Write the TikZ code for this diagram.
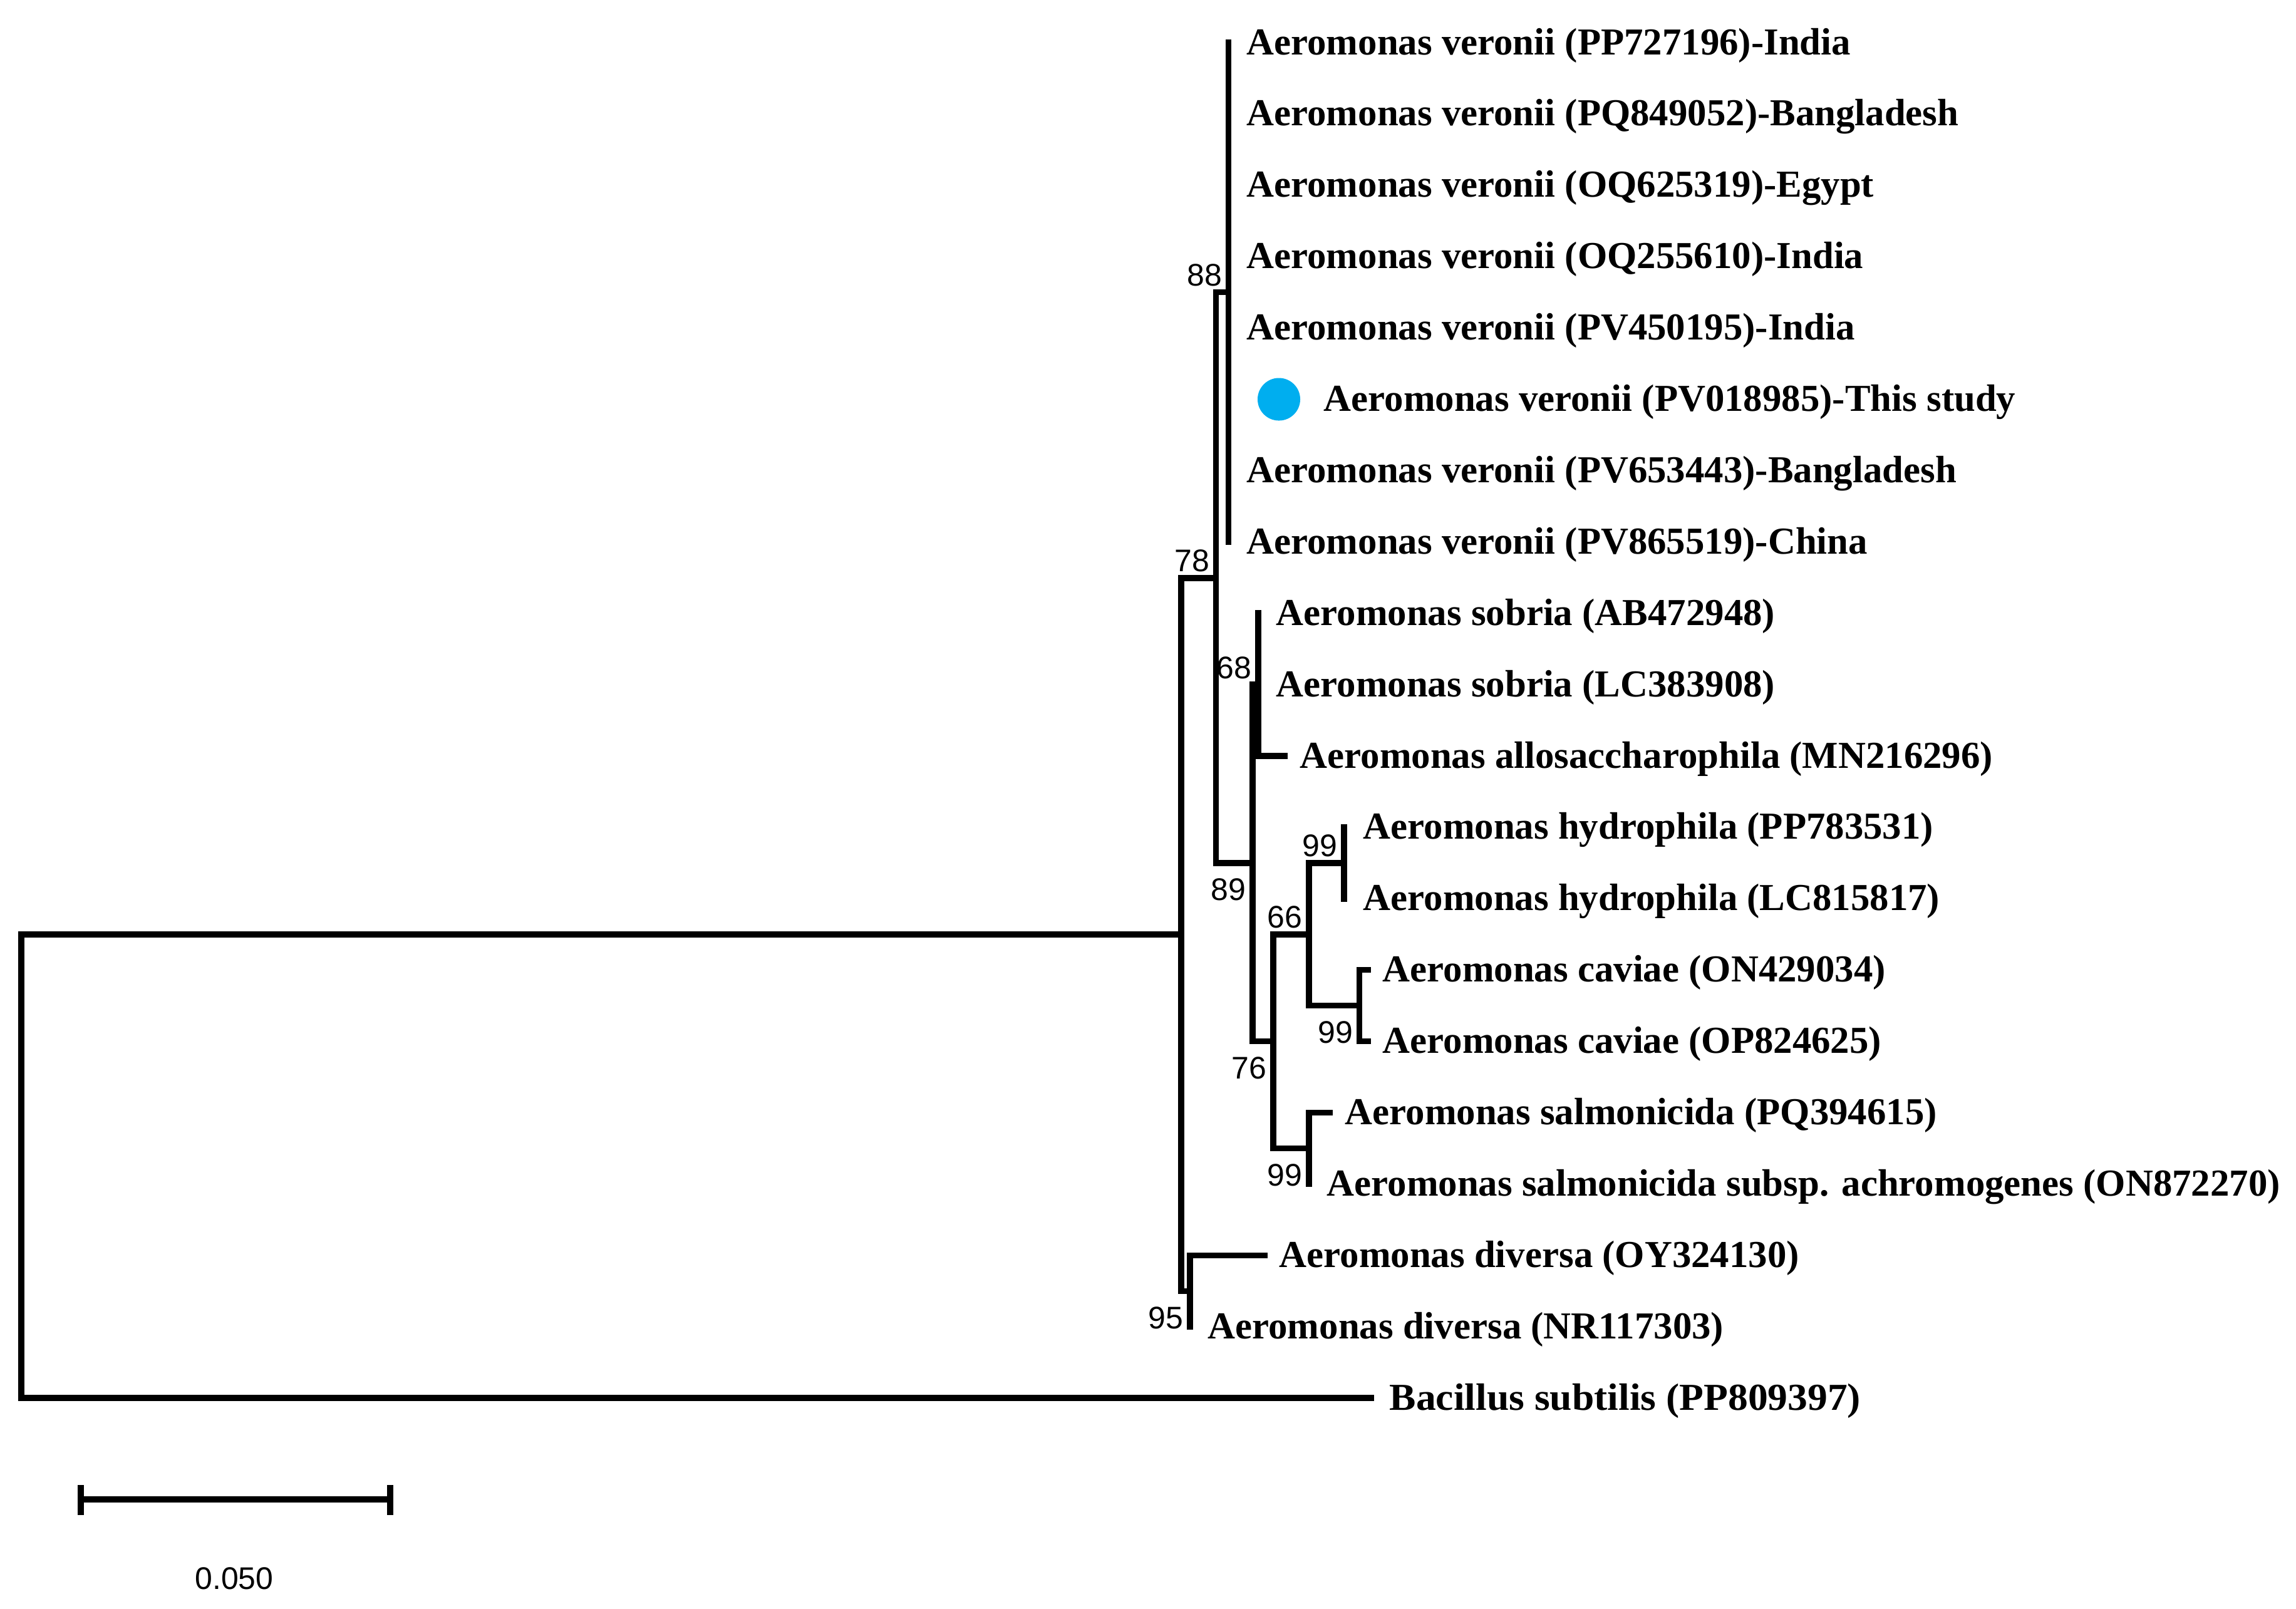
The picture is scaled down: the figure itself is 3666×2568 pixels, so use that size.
\documentclass[tikz,border=0pt]{standalone}
\usepackage{fontspec}
\setmainfont{Liberation Serif}
\newfontfamily\bsfont{Liberation Sans}
\definecolor{studyblue}{HTML}{00AEEF}
\begin{document}
\begin{tikzpicture}[x=0.01cm,y=-0.01cm,
  branch/.style={line width=0.095cm, line cap=rect, line join=miter},
  taxon/.style={anchor=base west, inner sep=0pt, font=\fontsize{17.3}{20}\selectfont\bfseries},
  bsabove/.style={anchor=base east, inner sep=0pt, font=\bsfont\fontsize{14.2}{16}\selectfont},
  bsbelow/.style={anchor=base east, inner sep=0pt, font=\bsfont\fontsize{14.2}{16}\selectfont},
  scalelab/.style={anchor=base, inner sep=0pt, font=\bsfont\fontsize{14.2}{16}\selectfont}]
\useasboundingbox[fill=white] (0,0) rectangle (3666,2568);

% internal nodes
\coordinate (root) at (34,1862);
\coordinate (ing) at (1886,1492);
\coordinate (n78) at (1941.5,922.75);
\coordinate (n88) at (1961.6,466.65);
\coordinate (n89) at (2000,1377.85);
\coordinate (n68) at (2009,1093.1);
\coordinate (n76) at (2033,1662.6);
\coordinate (n66) at (2090,1491.8);
\coordinate (n99h) at (2146,1377.85);
\coordinate (n99c) at (2170.5,1605.65);
\coordinate (n99s) at (2090,1833.45);
\coordinate (n95) at (1900,2061.25);

% tips
\coordinate (t0) at (1961.6,68);
\coordinate (t7) at (1961.6,865.3);
\coordinate (t8) at (2009,979.2);
\coordinate (t10) at (2051,1207);
\coordinate (t11) at (2146,1320.9);
\coordinate (t12) at (2146,1434.8);
\coordinate (t13) at (2184,1548.7);
\coordinate (t14) at (2184,1662.6);
\coordinate (t15) at (2123,1776.5);
\coordinate (t16) at (2090,1890.4);
\coordinate (t17) at (2019,2004.3);
\coordinate (t18) at (1900,2118.2);
\coordinate (t19) at (2189,2232.1);

% branches
\draw[branch] (ing) -| (root) |- (t19);
\draw[branch] (n78) -| (ing) |- (n95);
\draw[branch] (n88) -| (n78) |- (n89);
\draw[branch] (t0) -- (t7);
\draw[branch] (n68) -| (n89) |- (n76);
\draw[branch] (t8) |- (t10);
\draw[branch] (n66) -| (n76) |- (n99s);
\draw[branch] (n99h) -| (n66) |- (n99c);
\draw[branch] (t11) -- (t12);
\draw[branch] (t13) -| (n99c) |- (t14);
\draw[branch] (t15) -| (t16);
\draw[branch] (t17) -| (t18);

% taxon labels
\node[taxon] (L0) at (1990,87) {Aeromonas veronii (PP727196)-India};
\node[taxon] (L1) at (1990,200.9) {Aeromonas veronii (PQ849052)-Bangladesh};
\node[taxon] (L2) at (1990,314.8) {Aeromonas veronii (OQ625319)-Egypt};
\node[taxon] (L3) at (1990,428.7) {Aeromonas veronii (OQ255610)-India};
\node[taxon] (L4) at (1990,542.6) {Aeromonas veronii (PV450195)-India};
\node[circle, fill=studyblue, minimum size=0.68cm, inner sep=0pt] (dot) at (2042,637.5) {};
\node[taxon] (L5) at (2113,656.5) {Aeromonas veronii (PV018985)-This study};
\node[taxon] (L6) at (1990,770.4) {Aeromonas veronii (PV653443)-Bangladesh};
\node[taxon] (L7) at (1990,884.3) {Aeromonas veronii (PV865519)-China};
\node[taxon] (L8) at (2037,998.2) {Aeromonas sobria (AB472948)};
\node[taxon] (L9) at (2037,1112.1) {Aeromonas sobria (LC383908)};
\node[taxon] (L10) at (2075,1226) {Aeromonas allosaccharophila (MN216296)};
\node[taxon] (L11) at (2176,1339.9) {Aeromonas hydrophila (PP783531)};
\node[taxon] (L12) at (2176,1453.8) {Aeromonas hydrophila (LC815817)};
\node[taxon] (L13) at (2207,1567.7) {Aeromonas caviae (ON429034)};
\node[taxon] (L14) at (2207,1681.6) {Aeromonas caviae (OP824625)};
\node[taxon] (L15) at (2147,1795.5) {Aeromonas salmonicida (PQ394615)};
\node[taxon] (L16) at (2118,1909.4) {Aeromonas salmonicida subsp. achromogenes (ON872270)};
\node[taxon] (L17) at (2042,2023.3) {Aeromonas diversa (OY324130)};
\node[taxon] (L18) at (1928,2137.2) {Aeromonas diversa (NR117303)};
\node[taxon] (L19) at (2218,2251.1) {\scalebox{1.045}[1]{Bacillus subtilis (PP809397)}};

% bootstrap values
\node[bsabove] (b88) at ([shift={(-10,-10)}]n88) {88};
\node[bsabove] (b78) at ([shift={(-10,-10)}]n78) {78};
\node[bsabove] (b68) at ([shift={(-10,-10)}]n68) {68};
\node[bsbelow] (b89) at ([shift={(-10,60)}]n89) {89};
\node[bsabove] (b99h) at ([shift={(-10,-10)}]n99h) {99};
\node[bsabove] (b66) at ([shift={(-10,-10)}]n66) {66};
\node[bsbelow] (b99c) at ([shift={(-10,60)}]n99c) {99};
\node[bsbelow] (b76) at ([shift={(-10,60)}]n76) {76};
\node[bsbelow] (b99s) at ([shift={(-10,60)}]n99s) {99};
\node[bsbelow] (b95) at ([shift={(-10,60)}]n95) {95};

% scale bar
\coordinate (sb1) at (129,2394);
\coordinate (sb2) at (623,2394);
\coordinate (sb1t) at (129,2376);
\coordinate (sb1b) at (129,2414);
\coordinate (sb2t) at (623,2376);
\coordinate (sb2b) at (623,2414);
\draw[branch] (sb1) -- (sb2);
\draw[branch] (sb1t) -- (sb1b);
\draw[branch] (sb2t) -- (sb2b);
\node[scalelab] (sblab) at (374,2537) {0.050};
\end{tikzpicture}
\end{document}
